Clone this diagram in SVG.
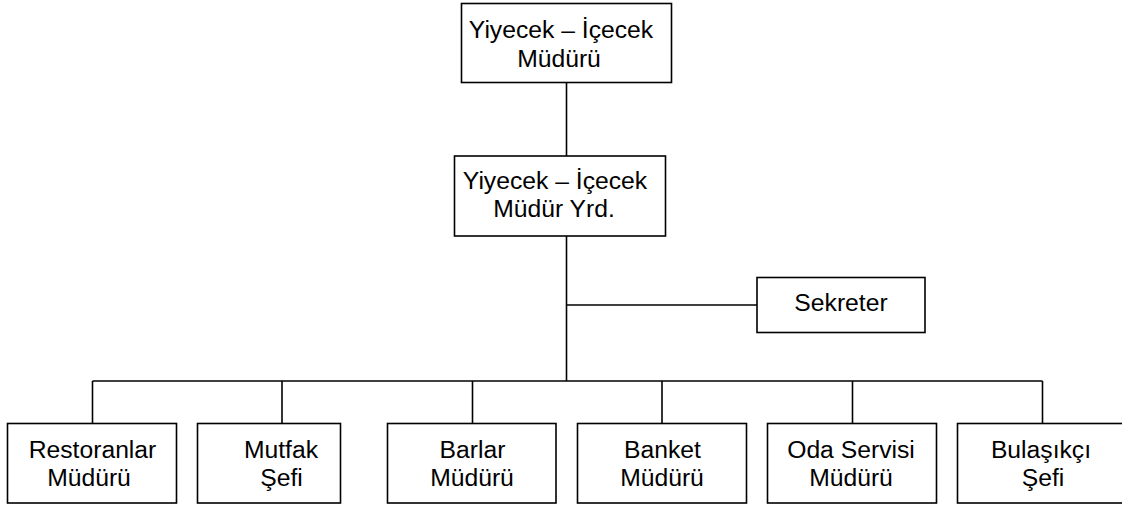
<svg xmlns="http://www.w3.org/2000/svg" width="1122" height="508" viewBox="0 0 1122 508">
<style>
.box{fill:#fff;stroke:#000;stroke-width:1.6}
.ln{stroke:#000;stroke-width:1.6;fill:none}
text{font-family:"Liberation Sans",Arial,sans-serif;font-size:24.7px;fill:#000;text-anchor:middle}
</style>
<rect width="1122" height="508" fill="#fff"/>
<g id="connectors">
<line class="ln" x1="566.5" y1="82" x2="566.5" y2="156"/>
<line class="ln" x1="566.5" y1="236" x2="566.5" y2="381"/>
<line class="ln" x1="566.5" y1="305" x2="757" y2="305"/>
<line class="ln" x1="92.5" y1="381" x2="1042.5" y2="381"/>
<line class="ln" x1="92.5" y1="381" x2="92.5" y2="423"/>
<line class="ln" x1="282" y1="381" x2="282" y2="423"/>
<line class="ln" x1="472.5" y1="381" x2="472.5" y2="423"/>
<line class="ln" x1="662" y1="381" x2="662" y2="423"/>
<line class="ln" x1="852.5" y1="381" x2="852.5" y2="423"/>
<line class="ln" x1="1042.5" y1="381" x2="1042.5" y2="423"/>
</g>
<g id="n-mudur">
<rect class="box" x="461.5" y="3.5" width="210" height="79"/>
<text x="561" y="38">Yiyecek – İçecek</text>
<text x="559" y="66.5">Müdürü</text>
</g>
<g id="n-yrd">
<rect class="box" x="454.5" y="156" width="211" height="80"/>
<text x="555" y="188.5">Yiyecek – İçecek</text>
<text x="554" y="217">Müdür Yrd.</text>
</g>
<g id="n-sekreter">
<rect class="box" x="757" y="277.5" width="168" height="55"/>
<text x="841" y="311">Sekreter</text>
</g>
<g id="n-restoran">
<rect class="box" x="7.5" y="423.5" width="169" height="79.5"/>
<text x="92.5" y="458">Restoranlar</text>
<text x="89" y="486">Müdürü</text>
</g>
<g id="n-mutfak">
<rect class="box" x="197.5" y="423.5" width="143" height="79.5"/>
<text x="281" y="458">Mutfak</text>
<text x="281.5" y="486">Şefi</text>
</g>
<g id="n-barlar">
<rect class="box" x="387.5" y="423.5" width="168.5" height="79.5"/>
<text x="472.5" y="458">Barlar</text>
<text x="472" y="486">Müdürü</text>
</g>
<g id="n-banket">
<rect class="box" x="577.5" y="423.5" width="169" height="79.5"/>
<text x="662.5" y="458">Banket</text>
<text x="662" y="486">Müdürü</text>
</g>
<g id="n-oda">
<rect class="box" x="767.5" y="423.5" width="169" height="79.5"/>
<text x="851" y="458">Oda Servisi</text>
<text x="851" y="486">Müdürü</text>
</g>
<g id="n-bulasikci">
<rect class="box" x="957.5" y="423.5" width="175" height="79.5"/>
<text x="1041" y="458">Bulaşıkçı</text>
<text x="1043" y="486">Şefi</text>
</g>
</svg>
